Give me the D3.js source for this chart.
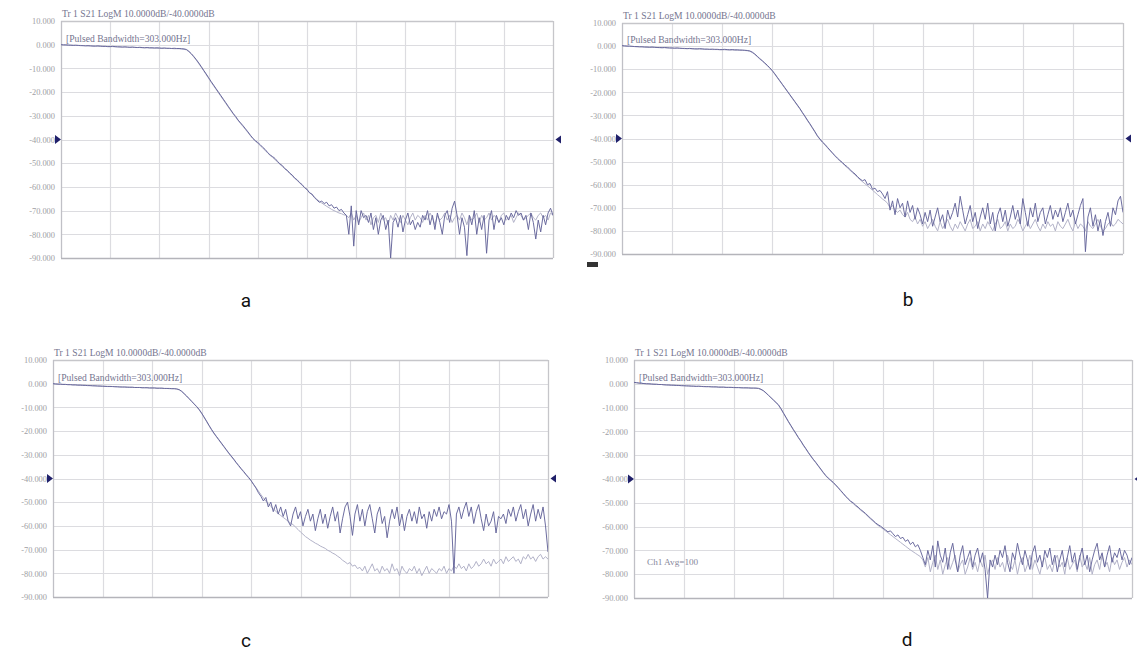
<!DOCTYPE html>
<html><head><meta charset="utf-8">
<script src="https://cdn.jsdelivr.net/npm/d3@7"></script>
<style>body{margin:0;background:#fff;} svg{display:block;}</style>
</head><body><svg id="chart" width="1137" height="652"></svg>
<script>
// ---------------- data ----------------
const panelLabels = ["a", "b", "c", "d"];
const yTicks = [10, 0, -10, -20, -30, -40, -50, -60, -70, -80, -90];
const yTickLabels = ["10.000", "0.000", "-10.000", "-20.000", "-30.000", "-40.000", "-50.000", "-60.000", "-70.000", "-80.000", "-90.000"];
const xDivisions = [0, 1, 2, 3, 4, 5, 6, 7, 8, 9, 10];
const headerText = "Tr 1  S21 LogM 10.0000dB/-40.0000dB";
const bandText = "[Pulsed Bandwidth=303.000Hz]";
const avgText = "Ch1 Avg=100";
const refLevel = -40;
const sampleStep = 0.05; // divisions between samples

const aDark = [
0,-0.1,-0.1,-0.2,-0.2,-0.3,-0.2,-0.3,-0.4,-0.4,
-0.5,-0.4,-0.5,-0.6,-0.6,-0.5,-0.6,-0.7,-0.7,-0.8,
-0.8,-0.7,-0.8,-0.9,-0.9,-1.0,-0.9,-1.0,-1.1,-1.0,
-1.1,-1.2,-1.1,-1.2,-1.3,-1.2,-1.3,-1.3,-1.4,-1.3,
-1.4,-1.5,-1.4,-1.5,-1.5,-1.6,-1.5,-1.6,-1.6,-1.7,
-1.8,
-2.0,-2.8,-3.8,-5.0,-6.3,-7.7,-9.2,-10.8,-12.3,-13.9,
-15.5,-17,-18.5,-20,-21.5,-23,-24.5,-26,-27.5,-29,
-30.3,-31.8,-33,-34.2,-35.5,-36.8,-38.2,-39.5,-40.5,-41.3,
-42.2,-43.3,-44.2,-45.5,-46.5,-47.2,-48,-49.2,-50.3,-51,
-52.3,-53,-54.2,-55,-56.3,-57,-58.2,-59,-60.3,-61,
-62.5,-63,-64.5,-65.5,-66.5,-66,-67,-66.5,-68,-67.5,
-69,-68.5,-70,-69.5,-71,
-72,-80,-68,-85,-70,-76,-70,-73,-72,-75,
-71,-78,-73,-80,-74,-72,-78,-74,-90,-75,
-73,-77,-72,-79,-74,-71,-76,-74,-78,-75,
-77,-72,-74,-70,-76,-72,-78,-71,-75,-80,
-72,-70,-75,-69,-66,-72,-80,-73,-77,-89,
-72,-76,-70,-80,-73,-78,-72,-88,-74,-70,
-78,-72,-75,-73,-76,-72,-74,-71,-73,-70,
-72,-71,-74,-72,-78,-71,-75,-82,-74,-79,
-72,-76,-71,-69,-72];

const aLight = [
0,0,-0.1,-0.1,-0.2,-0.2,-0.3,-0.3,-0.3,-0.4,
-0.4,-0.5,-0.5,-0.5,-0.6,-0.6,-0.7,-0.7,-0.7,-0.8,
-0.8,-0.8,-0.9,-0.9,-1.0,-1.0,-1.0,-1.1,-1.1,-1.1,
-1.2,-1.2,-1.2,-1.3,-1.3,-1.3,-1.4,-1.4,-1.4,-1.5,
-1.5,-1.5,-1.5,-1.6,-1.6,-1.6,-1.7,-1.7,-1.7,-1.8,
-1.9,
-2.2,-3.0,-4.0,-5.2,-6.5,-8.0,-9.5,-11,-12.6,-14.2,
-15.8,-17.3,-18.8,-20.3,-21.8,-23.3,-24.8,-26.3,-27.8,-29.2,
-30.6,-32,-33.3,-34.5,-35.8,-37.1,-38.4,-39.6,-40.7,-41.6,
-42.6,-43.6,-44.6,-45.7,-46.7,-47.6,-48.5,-49.5,-50.5,-51.4,
-52.4,-53.3,-54.3,-55.3,-56.3,-57.3,-58.3,-59.3,-60.3,-61.3,
-62.3,-63.3,-64.2,-65.2,-66,-66.8,-67.5,-68.2,-68.8,-69.5,
-70,-70.5,-71,-71.3,-71.8,
-72,-73,-71,-74,-72,-75,-73,-71,-74,-72,
-76,-73,-72,-75,-71,-74,-73,-76,-72,-74,
-71,-73,-75,-72,-74,-76,-73,-71,-74,-72,
-73,-75,-72,-74,-71,-73,-76,-72,-74,-73,
-71,-74,-72,-75,-73,-72,-74,-71,-73,-76,
-72,-74,-73,-71,-75,-72,-74,-73,-71,-74,
-72,-73,-75,-72,-71,-74,-73,-72,-75,-73,
-71,-72,-74,-73,-72,-71,-73,-74,-72,-71,
-73,-72,-74,-71,-72];

const bDark = [
0.2,0.1,0,0,-0.1,-0.2,-0.2,-0.3,-0.3,-0.4,
-0.4,-0.5,-0.4,-0.5,-0.6,-0.6,-0.7,-0.6,-0.7,-0.8,
-0.8,-0.9,-0.8,-0.9,-1.0,-1.0,-1.1,-1.0,-1.1,-1.2,
-1.2,-1.1,-1.2,-1.3,-1.3,-1.4,-1.3,-1.4,-1.4,-1.5,
-1.5,-1.4,-1.5,-1.6,-1.5,-1.6,-1.6,-1.7,-1.7,-1.8,
-1.9,-2.1,
-2.6,-3.4,-4.4,-5.4,-6.3,-7.3,-8.3,-9.4,-10.6,
-12,-13.5,-15,-16.5,-18,-19.5,-21,-22.5,-24,-25.5,
-27,-28.7,-30.3,-32,-33.6,-35.3,-37,-38.8,-40.2,-41.5,
-42.5,-43.8,-45,-46.2,-47.4,-48.5,-49.5,-50.4,-51.5,-52.3,
-53.4,-54.5,-55.3,-56.5,-57.5,-58.3,-57.8,-60,-59.5,-62,
-61.5,-63,-62.5,-64,
-66,-63,-71,-67,-73,-66,-70,-68,-74,-67,
-72,-69,-75,-70,-73,-77,-72,-76,-71,-78,
-74,-70,-76,-73,-79,-71,-75,-72,-68,-74,
-65,-71,-77,-73,-69,-76,-72,-79,-74,-70,
-75,-68,-77,-72,-80,-73,-70,-76,-71,-78,
-74,-69,-75,-71,-77,-66,-72,-78,-70,-74,
-68,-76,-72,-70,-77,-73,-69,-75,-71,-74,
-70,-76,-72,-68,-74,-71,-77,-73,-69,-66,
-89,-74,-70,-78,-73,-80,-75,-82,-76,-72,
-78,-70,-73,-67,-65,-72];

const bLight = [
0.1,0.1,0,-0.1,-0.1,-0.2,-0.3,-0.3,-0.3,-0.4,
-0.5,-0.5,-0.5,-0.6,-0.6,-0.7,-0.7,-0.7,-0.8,-0.8,
-0.9,-0.9,-0.9,-1.0,-1.0,-1.1,-1.1,-1.1,-1.2,-1.2,
-1.3,-1.3,-1.3,-1.4,-1.4,-1.4,-1.5,-1.5,-1.5,-1.6,
-1.6,-1.6,-1.7,-1.7,-1.7,-1.8,-1.8,-1.8,-1.9,-1.9,
-2.0,-2.2,
-2.8,-3.6,-4.6,-5.6,-6.5,-7.5,-8.5,-9.6,-10.8,
-12.2,-13.7,-15.2,-16.7,-18.2,-19.7,-21.2,-22.7,-24.2,-25.7,
-27.2,-28.9,-30.5,-32.2,-33.8,-35.5,-37.2,-39,-40.4,-41.7,
-42.8,-44,-45.2,-46.4,-47.6,-48.7,-49.8,-50.7,-51.8,-52.7,
-53.7,-54.8,-55.7,-56.8,-57.8,-58.7,-59.6,-60.5,-61.4,-62.4,
-63.3,-64.3,-65.2,-66.2,
-67,-68,-70,-69,-71,-72,-71,-73,-74,-72,
-75,-76,-74,-77,-75,-78,-76,-79,-77,-75,
-78,-80,-76,-79,-77,-75,-78,-80,-77,-79,
-76,-78,-80,-77,-75,-79,-78,-76,-80,-77,
-79,-76,-78,-80,-77,-75,-79,-78,-76,-80,
-77,-79,-78,-75,-77,-80,-78,-76,-79,-77,
-75,-78,-80,-77,-79,-76,-78,-77,-80,-76,
-78,-79,-77,-75,-78,-80,-76,-79,-77,-78,
-80,-76,-78,-79,-77,-75,-78,-80,-79,-77,
-76,-78,-77,-75,-76,-77];

const cDark = [
0,-0.1,-0.2,-0.2,-0.3,-0.3,-0.4,-0.4,-0.5,-0.5,
-0.6,-0.6,-0.7,-0.7,-0.8,-0.8,-0.9,-0.9,-1.0,-1.0,
-1.1,-1.1,-1.2,-1.2,-1.2,-1.3,-1.3,-1.4,-1.4,-1.4,
-1.5,-1.5,-1.5,-1.6,-1.6,-1.6,-1.7,-1.7,-1.7,-1.8,
-1.8,-1.8,-1.9,-1.9,-1.9,-2.0,-2.0,-2.0,-2.1,-2.1,
-2.2,-2.5,
-3.2,-4.2,-5.2,-6.3,-7.4,-8.5,-9.6,-10.8,-12.3,
-14,-15.7,-17.5,-19.2,-20.8,-22.2,-23.6,-25,-26.4,-27.8,
-29.2,-30.5,-31.8,-33.2,-34.5,-35.8,-37,-38.3,-39.5,-40.8,
-42.5,-44,-46,-47.5,-49.5,-48,
-52,-50,-54,-51,-55,-52,-56,-53,-58,-60,
-55,-52,-57,-54,-60,-56,-53,-58,-55,-62,
-57,-53,-59,-55,-61,-56,-52,-58,-54,-63,
-57,-52,-50,-56,-64,-55,-51,-58,-53,-60,
-54,-51,-57,-63,-55,-52,-59,-56,-65,-58,
-53,-57,-52,-60,-55,-62,-56,-53,-58,-54,
-59,-52,-57,-55,-61,-54,-58,-53,-56,-52,
-57,-54,-55,-51,-58,-80,-55,-52,-57,-53,
-50,-56,-52,-59,-54,-51,-57,-62,-55,-60,
-58,-54,-63,-56,-57,-55,-59,-53,-56,-52,
-58,-54,-51,-57,-53,-60,-55,-51,-58,-53,
-57,-52,-60,-71];

const cLight = [
0,-0.1,-0.1,-0.2,-0.3,-0.3,-0.4,-0.4,-0.5,-0.5,
-0.6,-0.6,-0.6,-0.7,-0.7,-0.8,-0.8,-0.9,-0.9,-1.0,
-1.0,-1.1,-1.1,-1.1,-1.2,-1.2,-1.3,-1.3,-1.4,-1.4,
-1.4,-1.5,-1.5,-1.6,-1.6,-1.6,-1.7,-1.7,-1.7,-1.8,
-1.8,-1.8,-1.9,-1.9,-1.9,-2.0,-2.0,-2.1,-2.1,-2.1,
-2.3,-2.6,
-3.3,-4.3,-5.3,-6.4,-7.5,-8.6,-9.7,-11,-12.5,
-14.2,-15.9,-17.7,-19.4,-21,-22.4,-23.8,-25.2,-26.6,-28,
-29.4,-30.7,-32,-33.4,-34.7,-36,-37.2,-38.5,-39.7,-41,
-42.3,-43.8,-45.3,-46.8,-48.2,-49.5,-50.7,-51.8,-52.8,-53.8,
-54.8,-55.6,-56.4,-57.2,-58,-58.8,-59.5,-60.5,-61.5,-62.6,
-63.5,-64.5,-65.2,-66,-66.6,-67.3,-67.8,-68.5,-69,-69.5,
-70.3,-70.8,-71.5,-72,-72.8,-73.5,-74.5,-75.2,-76,-75.5,
-77,-76.5,-78,-77.5,
-79,-77,-80,-78,-76,-79,-78,-80,-77,-79,
-78,-80,-76,-79,-78,-81,-77,-79,-80,-78,
-79,-77,-80,-78,-81,-79,-77,-80,-78,-79,
-80,-78,-79,-77,-80,-78,-79,-77,-78,-76,
-78,-77,-79,-76,-78,-77,-75,-77,-76,-74,
-76,-75,-77,-74,-76,-75,-74,-76,-73,-75,
-74,-73,-75,-74,-76,-73,-74,-72,-74,-73,
-75,-73,-72,-74,-73,-74];

const dDark = [
0.6,0.5,0.3,0.2,0.1,0,0,-0.1,-0.2,-0.2,
-0.3,-0.3,-0.4,-0.5,-0.5,-0.6,-0.6,-0.7,-0.7,-0.8,
-0.8,-0.9,-0.9,-1.0,-1.0,-1.1,-1.0,-1.1,-1.2,-1.2,
-1.2,-1.3,-1.3,-1.3,-1.4,-1.4,-1.4,-1.5,-1.5,-1.5,
-1.6,-1.6,-1.6,-1.7,-1.7,-1.7,-1.7,-1.8,-1.8,-1.8,
-1.9,-2.3,
-2.9,-3.8,-4.8,-5.8,-6.8,-7.8,-8.8,-10.4,-12.2,
-14,-15.8,-17.5,-19.2,-20.8,-22.5,-24,-25.7,-27.2,-28.8,
-30.3,-31.7,-33,-34.4,-35.8,-37.2,-38.5,-39.6,-40.5,-41.4,
-42.5,-43.6,-44.8,-46,-47.2,-48.3,-49.3,-50,-51,-51.8,
-52.8,-53.6,-54.5,-55.5,-56.5,-57.4,-58.4,-59.2,-59.8,-60.6,
-61.4,-62.2,-61.8,-63,-64.2,-63.5,-65,-64.5,-66.2,-65.5,
-67.5,-66.5,-68.5,-67.6,-70,
-73,-76,-70,-74,-68,-77,-66,-72,-75,-69,
-78,-71,-67,-74,-79,-72,-68,-76,-73,-70,
-77,-72,-69,-75,-71,-78,-90,-74,-77,-72,
-76,-70,-73,-68,-75,-79,-71,-74,-67,-72,
-76,-70,-74,-78,-71,-68,-75,-72,-77,-70,
-73,-69,-76,-72,-79,-74,-70,-77,-73,-68,
-75,-71,-78,-73,-69,-76,-72,-79,-74,-70,
-67,-74,-71,-77,-72,-68,-75,-71,-73,-69,
-74,-70,-72,-76,-73];

const dLight = [
0.5,0.4,0.3,0.2,0.1,0.1,0,-0.1,-0.1,-0.2,
-0.3,-0.3,-0.4,-0.4,-0.5,-0.5,-0.6,-0.6,-0.7,-0.7,
-0.8,-0.8,-0.9,-0.9,-1.0,-1.0,-1.1,-1.1,-1.1,-1.2,
-1.2,-1.2,-1.3,-1.3,-1.4,-1.4,-1.4,-1.5,-1.5,-1.5,
-1.5,-1.6,-1.6,-1.6,-1.7,-1.7,-1.8,-1.8,-1.8,-1.9,
-2.0,-2.4,
-3.0,-3.9,-4.9,-5.9,-6.9,-7.9,-9.0,-10.6,-12.4,
-14.2,-16,-17.7,-19.4,-21,-22.7,-24.2,-25.9,-27.4,-29,
-30.5,-31.9,-33.2,-34.6,-36,-37.4,-38.7,-39.8,-40.7,-41.6,
-42.7,-43.8,-45,-46.2,-47.4,-48.5,-49.5,-50.3,-51.3,-52.1,
-53.1,-53.9,-54.8,-55.8,-56.8,-57.7,-58.7,-59.5,-60.2,-61,
-61.8,-62.6,-63.4,-64.2,-65,-65.8,-66.6,-67.4,-68.2,-69,
-69.8,-70.5,-71.2,-71.9,-72.6,
-74,-77,-73,-79,-75,-72,-78,-74,-80,-76,
-73,-78,-75,-72,-79,-76,-74,-80,-77,-73,
-78,-75,-79,-74,-77,-72,-80,-76,-74,-78,
-73,-77,-75,-79,-72,-76,-78,-74,-80,-75,
-73,-79,-76,-72,-78,-74,-77,-80,-75,-73,
-78,-76,-79,-74,-72,-77,-75,-80,-73,-78,
-76,-74,-79,-72,-77,-75,-78,-73,-80,-76,
-74,-78,-72,-77,-75,-79,-73,-76,-74,-78,
-75,-73,-77,-74,-76];

// ---------------- layout ----------------
const panels = [
  {label: panelLabels[0], dark: aDark, light: aLight, l: 61, r: 553, t: 21, b: 258, cx: 246, cy: 307},
  {label: panelLabels[1], dark: bDark, light: bLight, l: 622, r: 1123, t: 23, b: 254, cx: 908, cy: 306},
  {label: panelLabels[2], dark: cDark, light: cLight, l: 53, r: 548, t: 360, b: 597, cx: 246, cy: 647},
  {label: panelLabels[3], dark: dDark, light: dLight, l: 634, r: 1132, t: 360, b: 598, cx: 907, cy: 646, avg: true},
];

const svg = d3.select("#chart");
svg.append("rect").attr("width", 1137).attr("height", 652).attr("fill", "#fff");

panels.forEach((p, pi) => {
  const x = d3.scaleLinear().domain([0, 10]).range([p.l, p.r]);
  const y = d3.scaleLinear().domain([-90, 10]).range([p.b, p.t]);
  const g = svg.append("g");

  const clipId = "clip" + pi;
  svg.append("clipPath").attr("id", clipId)
    .append("rect").attr("x", p.l).attr("y", p.t - 1).attr("width", p.r - p.l).attr("height", p.b - p.t + 1);

  // grid
  g.append("g").selectAll("line").data(yTicks.slice(1, -1)).join("line")
    .attr("x1", p.l).attr("x2", p.r).attr("y1", d => Math.round(y(d)) + 0.5).attr("y2", d => Math.round(y(d)) + 0.5)
    .attr("stroke", "#dcdce0").attr("stroke-width", 1.2);
  g.append("g").selectAll("line").data(xDivisions.slice(1, -1)).join("line")
    .attr("x1", d => Math.round(x(d)) + 0.5).attr("x2", d => Math.round(x(d)) + 0.5).attr("y1", p.t).attr("y2", p.b)
    .attr("stroke", "#dcdce0").attr("stroke-width", 1.2);

  // frame
  g.append("line").attr("x1", p.l).attr("x2", p.r).attr("y1", p.t + 0.5).attr("y2", p.t + 0.5).attr("stroke", "#c6c6ca").attr("stroke-width", 1.3);
  g.append("line").attr("x1", p.r + 0.5).attr("x2", p.r + 0.5).attr("y1", p.t).attr("y2", p.b).attr("stroke", "#c6c6ca").attr("stroke-width", 1.3);
  g.append("line").attr("x1", p.l + 0.5).attr("x2", p.l + 0.5).attr("y1", p.t).attr("y2", p.b).attr("stroke", "#c0c0c6").attr("stroke-width", 1.3);
  g.append("line").attr("x1", p.l).attr("x2", p.r).attr("y1", p.b + 0.5).attr("y2", p.b + 0.5).attr("stroke", "#b4b4ba").attr("stroke-width", 1.6);

  // y axis labels
  const axis = d3.axisLeft(y).tickValues(yTicks).tickFormat((d, i) => yTickLabels[i]).tickSize(0).tickPadding(6);
  const ag = g.append("g").attr("transform", `translate(${p.l},0)`).call(axis);
  ag.select(".domain").remove();
  ag.selectAll("text").attr("font-family", "'Liberation Serif', serif").attr("font-size", 8.4).attr("fill", "#a0a0a4");

  // header texts
  g.append("text").attr("x", p.l + 1).attr("y", p.t - 4).text(headerText)
    .attr("font-family", "'Liberation Serif', serif").attr("font-size", 9.6).attr("fill", "#75758f");
  g.append("text").attr("x", p.l + 5).attr("y", y(0) - 3).text(bandText)
    .attr("font-family", "'Liberation Serif', serif").attr("font-size", 9.6).attr("fill", "#75758f");
  if (p.avg) {
    g.append("text").attr("x", p.l + 13).attr("y", y(-75) + 3).text(avgText)
      .attr("font-family", "'Liberation Serif', serif").attr("font-size", 9.2).attr("fill", "#88889c");
  }

  // traces
  const line = d3.line().x((d, i) => x(i * sampleStep)).y(d => y(d));
  const tg = g.append("g").attr("clip-path", `url(#${clipId})`);
  tg.append("path").datum(p.light).attr("d", line).attr("fill", "none").attr("stroke", "#b2b2c8").attr("stroke-width", 1).attr("stroke-linejoin", "round");
  tg.append("path").datum(p.dark).attr("d", line).attr("fill", "none").attr("stroke", "#64649a").attr("stroke-width", 0.95).attr("stroke-linejoin", "round");

  // reference markers
  const ry = y(refLevel);
  g.append("path").attr("d", `M${p.l - 6},${ry - 4.5}L${p.l},${ry}L${p.l - 6},${ry + 4.5}Z`).attr("fill", "#20206a");
  g.append("path").attr("d", `M${p.r + 8},${ry - 4}L${p.r + 2.5},${ry}L${p.r + 8},${ry + 4}Z`).attr("fill", "#20206a");

  // caption
  svg.append("text").attr("x", p.cx).attr("y", p.cy).attr("text-anchor", "middle").text(p.label)
    .attr("font-family", "Roboto, 'Noto Sans', sans-serif").attr("font-size", 19).attr("fill", "#111");
});

// small status block under panel b
svg.append("rect").attr("x", 587).attr("y", 262).attr("width", 11).attr("height", 5).attr("fill", "#333");
</script>
</body></html>
